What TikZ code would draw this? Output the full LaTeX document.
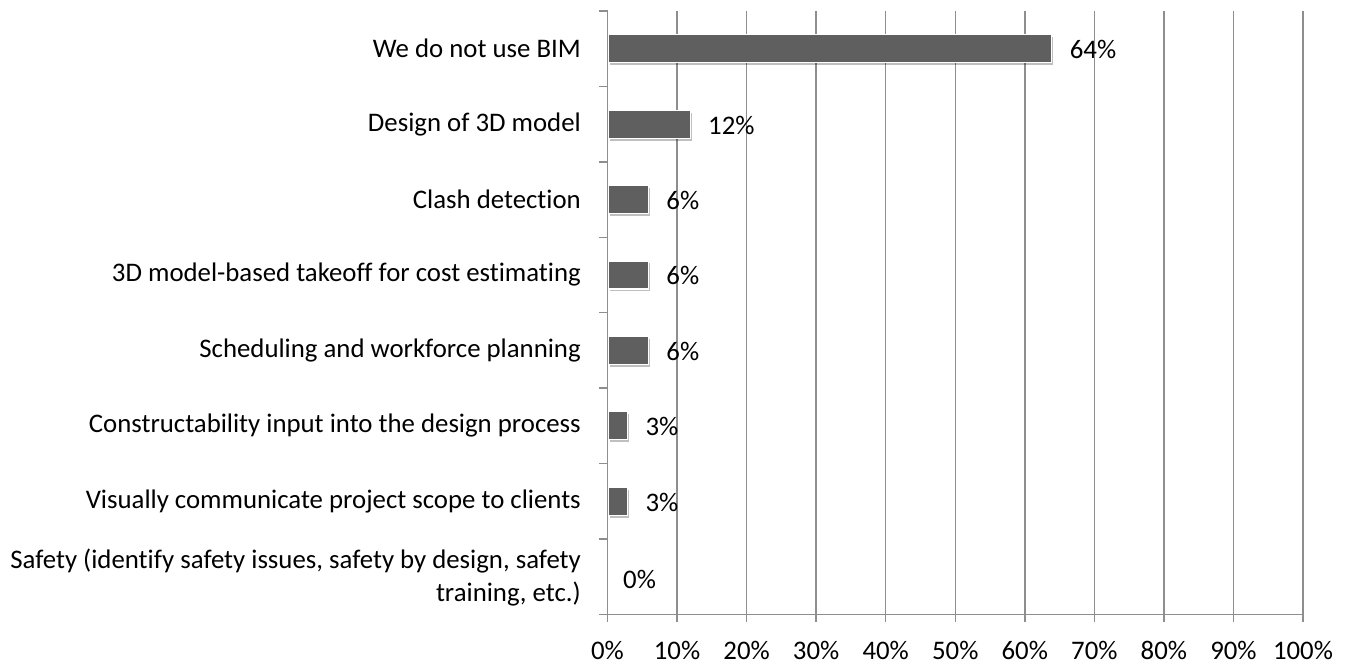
\documentclass[tikz,border=0pt]{standalone}
\usepackage{fontspec}
\setmainfont{Carlito}[Ligatures=NoCommon]
\usetikzlibrary{shadows}
\definecolor{barfill}{HTML}{5F5F5F}
\definecolor{gridc}{HTML}{8E8E8E}
\begin{document}
\begin{tikzpicture}[x=1pt,y=-1pt,
  gridline/.style={draw=gridc,line width=1.4pt},
  barbox/.style={draw=white,line width=1.2pt,fill=barfill,
     drop shadow={shadow xshift=1.5pt,shadow yshift=-2.5pt,fill=black,opacity=0.25}},
  catlabel/.style={anchor=east,align=right,font=\fontsize{26.8}{32.5}\selectfont,inner sep=0pt},
  vallabel/.style={anchor=west,font=\fontsize{26.8}{30}\selectfont,inner sep=0pt},
  ticklabel/.style={anchor=center,font=\fontsize{26.8}{30}\selectfont,inner sep=0pt}]
\useasboundingbox (0,0) rectangle (1353,665);
\def\xz{607.5}
\def\xs{6.955}
\def\ytop{11}
\def\ybot{614.3}
\def\rowh{75.41}
% vertical gridlines
\foreach \p in {10,20,...,100}{
  \draw[gridline] ({\xz+\p*\xs},\ytop) -- ({\xz+\p*\xs},{\ybot+7.5});
}
% horizontal axis with ticks
\draw[gridline] (599,\ybot) -- ({\xz+100*\xs},\ybot);
\draw[gridline] (\xz,{\ybot+7.5}) -- (\xz,\ytop);
\foreach \i in {0,...,7}{
  \draw[gridline] (599,{\ytop+\i*\rowh}) -- (\xz,{\ytop+\i*\rowh});
}
% tick labels
\foreach \p [count=\k] in {0,10,...,100}{
  \node[ticklabel] (t\k) at ({\xz+\p*\xs},650) {\p\%};
}
% bars
\foreach \v/\lab [count=\i] in {64/64,12/12,6/6,6/6,6/6,3/3,3/3}{
  \path[barbox] ({\xz+0.7},{\ytop+(\i-0.5)*\rowh-14}) rectangle ({\xz+\v*\xs-0.8},{\ytop+(\i-0.5)*\rowh+14});
  \node[vallabel] (v\i) at ({\xz+\v*\xs+17},{\ytop+(\i-0.5)*\rowh+1}) {\lab\%};
}
\node[vallabel] (v8) at (623,{\ytop+7.5*\rowh+3}) {0\%};
% category labels
\node[catlabel] (c1) at (581,{\ytop+0.5*\rowh}) {We do not use BIM};
\node[catlabel] (c2) at (581,{\ytop+1.5*\rowh}) {Design of 3D model};
\node[catlabel] (c3) at (581,{\ytop+2.5*\rowh}) {Clash detection};
\node[catlabel] (c4) at (581,{\ytop+3.5*\rowh}) {3D model-based takeoff for cost estimating};
\node[catlabel] (c5) at (581,{\ytop+4.5*\rowh}) {Scheduling and workforce planning};
\node[catlabel] (c6) at (581,{\ytop+5.5*\rowh}) {Constructability input into the design process};
\node[catlabel] (c7) at (581,{\ytop+6.5*\rowh}) {Visually communicate project scope to clients};
\node[catlabel] (c8) at (581,{\ytop+7.5*\rowh+1}) {Safety (identify safety issues, safety by design, safety\\training, etc.)};
\end{tikzpicture}
\end{document}
